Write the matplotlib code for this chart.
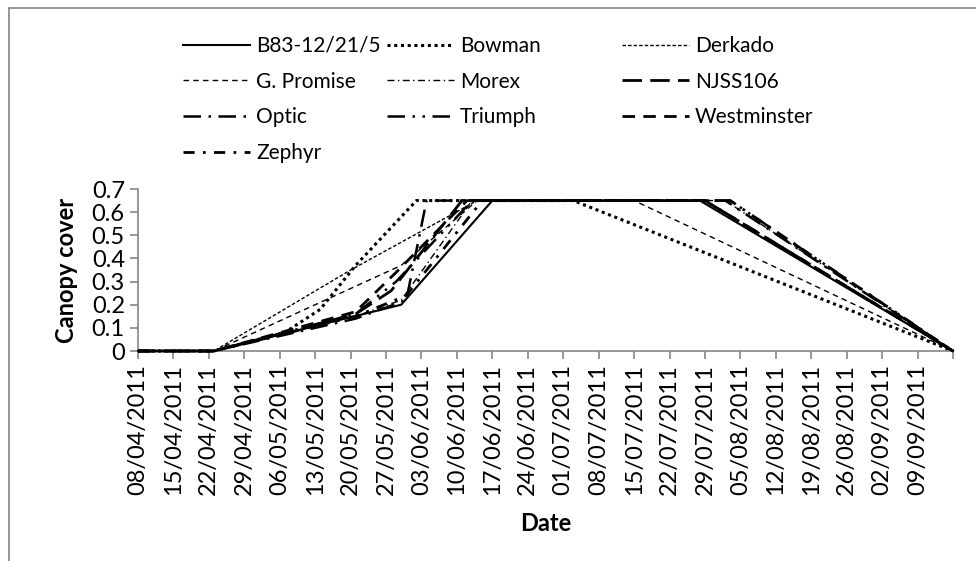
import matplotlib
matplotlib.use("Agg")
import matplotlib.pyplot as plt
from matplotlib.lines import Line2D

plt.rcParams['font.family'] = ['Lato', 'DejaVu Sans']

# x values are days after 08/04/2011
date_labels = ['08/04/2011', '15/04/2011', '22/04/2011', '29/04/2011', '06/05/2011',
               '13/05/2011', '20/05/2011', '27/05/2011', '03/06/2011', '10/06/2011',
               '17/06/2011', '24/06/2011', '01/07/2011', '08/07/2011', '15/07/2011',
               '22/07/2011', '29/07/2011', '05/08/2011', '12/08/2011', '19/08/2011',
               '26/08/2011', '02/09/2011', '09/09/2011']

b83_days = [0, 15, 52, 70, 111, 161]
b83_cover = [0, 0, 0.20, 0.65, 0.65, 0]
bowman_days = [0, 15, 29, 36, 43, 55, 86, 161]
bowman_cover = [0, 0, 0.08, 0.18, 0.37, 0.65, 0.65, 0]
derkado_days = [0, 15, 42, 67, 111, 161]
derkado_cover = [0, 0, 0.35, 0.65, 0.65, 0]
gpromise_days = [0, 15, 52, 67, 98, 161]
gpromise_cover = [0, 0, 0.37, 0.65, 0.65, 0]
morex_days = [0, 15, 43, 52, 66, 116, 161]
morex_cover = [0, 0, 0.15, 0.22, 0.65, 0.65, 0]
njss106_days = [0, 15, 43, 50, 64, 112, 161]
njss106_cover = [0, 0, 0.16, 0.26, 0.65, 0.65, 0]
optic_days = [0, 15, 43, 53, 57, 116, 161]
optic_cover = [0, 0, 0.14, 0.22, 0.65, 0.65, 0]
triumph_days = [0, 15, 43, 51, 66, 117, 161]
triumph_cover = [0, 0, 0.16, 0.30, 0.65, 0.65, 0]
westminster_days = [0, 15, 43, 51, 65, 112, 161]
westminster_cover = [0, 0, 0.17, 0.34, 0.65, 0.65, 0]
zephyr_days = [0, 15, 43, 53, 68, 117, 161]
zephyr_cover = [0, 0, 0.15, 0.24, 0.65, 0.65, 0]

# name, x, y, linestyle, width
series = [
    ('B83-12/21/5', b83_days, b83_cover, '-', 1.5),
    ('Bowman', bowman_days, bowman_cover, (0, (1, 1.2)), 2.2),
    ('Derkado', derkado_days, derkado_cover, (0, (2.5, 1.5)), 1.0),
    ('G. Promise', gpromise_days, gpromise_cover, (0, (4, 3)), 1.0),
    ('Morex', morex_days, morex_cover, (0, (5, 2.5, 1, 2.5)), 1.0),
    ('NJSS106', njss106_days, njss106_cover, (0, (7, 3)), 2.0),
    ('Optic', optic_days, optic_cover, (0, (7, 3, 1, 3)), 1.8),
    ('Triumph', triumph_days, triumph_cover, (0, (7, 3, 1, 3, 1, 3)), 1.8),
    ('Westminster', westminster_days, westminster_cover, (0, (4.5, 3)), 2.0),
    ('Zephyr', zephyr_days, zephyr_cover, (0, (4, 3, 1, 3)), 2.0),
]

W, H = 976, 561
fig = plt.figure(figsize=(W / 100, H / 100), dpi=100)
ax = fig.add_axes([138 / W, 1 - 351 / H, 815 / W, 162 / H])

handles = {}
for name, xs, ys, ls, lw in series:
    ln, = ax.plot(xs, ys, color='black', linestyle=ls, linewidth=lw,
                  clip_on=False, zorder=3)
    handles[name] = ln

gray = '#868686'
ax.set_xlim(0, 161)
ax.set_ylim(0, 0.7)
ax.set_xticks(range(0, 162, 7))
ax.set_xticklabels(date_labels + [''], rotation=90)
ax.set_yticks([i / 10 for i in range(8)])
ax.set_yticklabels(['0', '0.1', '0.2', '0.3', '0.4', '0.5', '0.6', '0.7'])
for s in ['top', 'right']:
    ax.spines[s].set_visible(False)
for s in ['left', 'bottom']:
    ax.spines[s].set_color(gray)
    ax.spines[s].set_linewidth(1.2)
ax.tick_params(axis='both', direction='out', length=6, width=1.2, color=gray,
               labelsize=17, labelcolor='black')
ax.set_xlabel('Date', fontsize=17, fontweight='bold', labelpad=12)
ax.set_ylabel('Canopy cover', fontsize=17, fontweight='bold', labelpad=10)

# legend as three columns like the Excel one
cols = [['B83-12/21/5', 'G. Promise', 'Optic', 'Zephyr'],
        ['Bowman', 'Morex', 'Triumph'],
        ['Derkado', 'NJSS106', 'Westminster']]
col_x = [183, 387, 622]
for names, cx in zip(cols, col_x):
    fig.legend([handles[n] for n in names], names, loc='upper left',
               bbox_to_anchor=(cx / W, 1 - 36 / H), frameon=False,
               fontsize=15, handlelength=3.2, handletextpad=0.3,
               labelspacing=0.75, borderpad=0, borderaxespad=0)

# chart border (top and left visible)
fig.add_artist(Line2D([9 / W, 1], [1 - 8 / H, 1 - 8 / H], color=gray, lw=1.2))
fig.add_artist(Line2D([9 / W, 9 / W], [0, 1 - 8 / H], color=gray, lw=1.2))

fig.savefig('out.png', dpi=100)
